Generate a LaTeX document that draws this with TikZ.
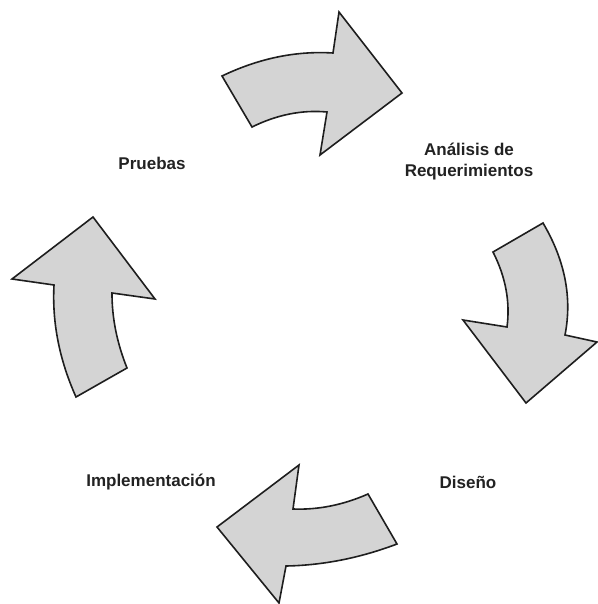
\documentclass[tikz,border=0pt]{standalone}
\usepackage{fontspec}
\setmainfont{Liberation Sans}
\definecolor{arrowfill}{HTML}{D4D4D4}
\definecolor{arrowline}{HTML}{1E1E1E}
\definecolor{labeltext}{HTML}{222222}
\begin{document}
\begin{tikzpicture}[x=1pt,y=-1pt,
  bigarrow/.style={fill=arrowfill,draw=arrowline,line width=1.6pt,line join=miter},
  lbl/.style={font=\fontsize{17}{21}\selectfont\bfseries,text=labeltext,align=center,inner sep=0pt}]
\useasboundingbox (0,0) rectangle (597,604);
% top arrow (Pruebas -> Analisis)
\draw[bigarrow] (222,76) .. controls (259,58.3) and (296,50.7) .. (333,53) -- (339,12) -- (402,93)
  -- (320,155) -- (327,112) .. controls (302,109.7) and (277,114.7) .. (252,127) -- cycle;
% right arrow (Analisis -> Diseno)
\draw[bigarrow] (493,252) -- (543,223) .. controls (565,260.3) and (572.3,297.7) .. (565,335) -- (597,342)
  -- (526,403) -- (463,320) -- (507,327) .. controls (510.3,302) and (505.7,277) .. (493,252) -- cycle;
% bottom arrow (Diseno -> Implementacion)
\draw[bigarrow] (368,494) -- (397,544) .. controls (360,558) and (323,565.3) .. (286,566) -- (279,603)
  -- (217,527) -- (299,465) -- (293,509) .. controls (318,510) and (343,505) .. (368,494) -- cycle;
% left arrow (Implementacion -> Pruebas)
\draw[bigarrow] (76,397) -- (127,368) .. controls (117,343) and (111.9,318) .. (112,293) -- (155,299)
  -- (93,217) -- (12,279) -- (54,285) .. controls (52,322.3) and (59.3,359.7) .. (76,397) -- cycle;
% labels
\node[lbl] (pruebas) at (152,163) {Pruebas};
\node[lbl] (analisis) at (469,162) {Análisis de\\Requerimientos};
\node[lbl] (diseno) at (468,482) {Diseño};
\node[lbl] (impl) at (151,482) {Implementación};
\end{tikzpicture}
\end{document}
